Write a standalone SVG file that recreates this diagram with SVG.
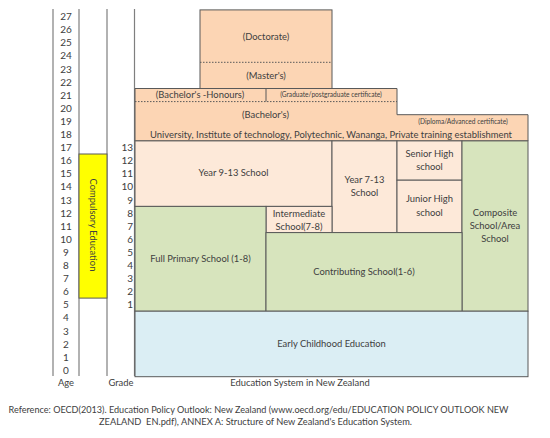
<svg xmlns="http://www.w3.org/2000/svg" width="550" height="438" viewBox="0 0 550 438">
<style>
text{font-family:Lato,"Liberation Sans",sans-serif;font-size:9.4px;fill:#404040}
.n{font-size:10px}
.c{text-anchor:middle}
.r{text-anchor:end}
.s{font-size:6.6px}
.ax{stroke:#7f7f7f;stroke-width:1.2;fill:none}
.box{stroke:#595959;stroke-width:1}
.ter{fill:#FCD5B4}
.sec{fill:#FDE9D9}
.pri{fill:#D7E4BD}
.ece{fill:#DBEEF4}
.dot{stroke:#595959;stroke-width:1;stroke-dasharray:1.5 1.5;fill:none}
</style>
<rect width="550" height="438" fill="#fff"/>
<g id="axes">
<line class="ax" x1="53" y1="9" x2="53" y2="376"/>
<line class="ax" x1="79" y1="9" x2="79" y2="376"/>
<line class="ax" x1="107" y1="9" x2="107" y2="376"/>
<line class="ax" x1="134.5" y1="9" x2="134.5" y2="376"/>
</g>
<g id="age-labels">
<text class="c n" x="66" y="374">0</text>
<text class="c n" x="66" y="360.7">1</text>
<text class="c n" x="66" y="347.6">2</text>
<text class="c n" x="66" y="334.5">3</text>
<text class="c n" x="66" y="321.4">4</text>
<text class="c n" x="66" y="308.3">5</text>
<text class="c n" x="66" y="295.2">6</text>
<text class="c n" x="66" y="282.1">7</text>
<text class="c n" x="66" y="269">8</text>
<text class="c n" x="66" y="255.9">9</text>
<text class="c n" x="66" y="242.8">10</text>
<text class="c n" x="66" y="229.7">11</text>
<text class="c n" x="66" y="216.6">12</text>
<text class="c n" x="66" y="203.5">13</text>
<text class="c n" x="66" y="190.4">14</text>
<text class="c n" x="66" y="177.3">15</text>
<text class="c n" x="66" y="164.2">16</text>
<text class="c n" x="66" y="151.1">17</text>
<text class="c n" x="66" y="138">18</text>
<text class="c n" x="66" y="124.9">19</text>
<text class="c n" x="66" y="111.8">20</text>
<text class="c n" x="66" y="98.7">21</text>
<text class="c n" x="66" y="85.6">22</text>
<text class="c n" x="66" y="72.5">23</text>
<text class="c n" x="66" y="59.4">24</text>
<text class="c n" x="66" y="46.3">25</text>
<text class="c n" x="66" y="33.2">26</text>
<text class="c n" x="66" y="20.1">27</text>
</g>
<g id="grade-labels">
<text class="r n" x="133" y="308.3">1</text>
<text class="r n" x="133" y="295.2">2</text>
<text class="r n" x="133" y="282.1">3</text>
<text class="r n" x="133" y="269">4</text>
<text class="r n" x="133" y="255.9">5</text>
<text class="r n" x="133" y="242.8">6</text>
<text class="r n" x="133" y="229.7">7</text>
<text class="r n" x="133" y="216.6">8</text>
<text class="r n" x="133" y="203.5">9</text>
<text class="r n" x="133" y="190.4">10</text>
<text class="r n" x="133" y="177.3">11</text>
<text class="r n" x="133" y="164.2">12</text>
<text class="r n" x="133" y="151.1">13</text>
</g>
<g id="compulsory">
<rect x="79" y="154" width="28" height="144.1" fill="#FFFF00" stroke="#595959" stroke-width="1"/>
<text class="c" transform="translate(90,225) rotate(90)">Compulsory Education</text>
</g>
<g id="tertiary">
<polygon class="box ter" points="135,88.5 397,88.5 397,114.7 528,114.7 528,140.9 135,140.9"/>
<line class="dot" x1="135" y1="101.6" x2="397" y2="101.6"/>
<line class="box" x1="266" y1="88.5" x2="266" y2="101.6"/>
<text class="c" x="200" y="98.4">(Bachelor's -Honours)</text>
<text class="c s" x="331" y="97.3">(Graduate/postgraduate certificate)</text>
<text class="c" x="265.5" y="118.3">(Bachelor's)</text>
<text class="c s" x="463" y="123.8">(Diploma/Advanced certificate)</text>
<text class="c" x="331" y="137.7" textLength="362" lengthAdjust="spacingAndGlyphs">University, Institute of technology, Polytechnic, Wananga, Private training establishment</text>
</g>
<g id="postgrad">
<rect class="box ter" x="200" y="9.9" width="132" height="78.6"/>
<line class="dot" x1="200" y1="62.3" x2="332" y2="62.3"/>
<text class="c" x="266" y="40">(Doctorate)</text>
<text class="c" x="266" y="78.8">(Master's)</text>
</g>
<g id="year9-13">
<rect class="box sec" x="135" y="140.9" width="197" height="65.5"/>
<text class="c" x="233.5" y="176">Year 9-13 School</text>
</g>
<g id="year7-13">
<rect class="box sec" x="332" y="140.9" width="65" height="91.7"/>
<text class="c" x="364.5" y="182.6">Year 7-13</text>
<text class="c" x="364.5" y="195.6">School</text>
</g>
<g id="senior-high">
<rect class="box sec" x="397" y="140.9" width="65" height="39.3"/>
<text class="c" x="429.5" y="157">Senior High</text>
<text class="c" x="429.5" y="170.3">school</text>
</g>
<g id="junior-high">
<rect class="box sec" x="397" y="180.2" width="65" height="52.4"/>
<text class="c" x="429.5" y="202.3">Junior High</text>
<text class="c" x="429.5" y="215.6">school</text>
</g>
<g id="intermediate">
<rect class="box sec" x="266" y="206.4" width="66" height="26.2"/>
<text class="c" x="299" y="217">Intermediate</text>
<text class="c" x="299" y="229.6">School(7-8)</text>
</g>
<g id="composite">
<rect class="box pri" x="462" y="140.9" width="66" height="170.3"/>
<text class="c" x="495" y="215.6">Composite</text>
<text class="c" x="495" y="229">School/Area</text>
<text class="c" x="495" y="241.6">School</text>
</g>
<g id="full-primary">
<rect class="box pri" x="135" y="206.4" width="131" height="104.8"/>
<text class="c" x="200.5" y="262.3">Full Primary School (1-8)</text>
</g>
<g id="contributing">
<rect class="box pri" x="266" y="232.6" width="196" height="78.6"/>
<text class="c" x="364" y="275">Contributing School(1-6)</text>
</g>
<g id="early-childhood">
<rect class="box ece" x="135" y="311.2" width="393" height="65.5"/>
<text class="c" x="331.5" y="347.3">Early Childhood Education</text>
</g>
<g id="captions">
<text class="c" x="66" y="386">Age</text>
<text class="c" x="121" y="386">Grade</text>
<text class="c" x="300" y="386">Education System in New Zealand</text>
<text x="8.5" y="413.3" textLength="500" lengthAdjust="spacingAndGlyphs">Reference: OECD(2013). Education Policy Outlook: New Zealand (www.oecd.org/edu/EDUCATION POLICY OUTLOOK NEW</text>
<text x="99" y="425" textLength="313" lengthAdjust="spacingAndGlyphs" xml:space="preserve">ZEALAND  EN.pdf), ANNEX A: Structure of New Zealand's Education System.</text>
</g>
</svg>
